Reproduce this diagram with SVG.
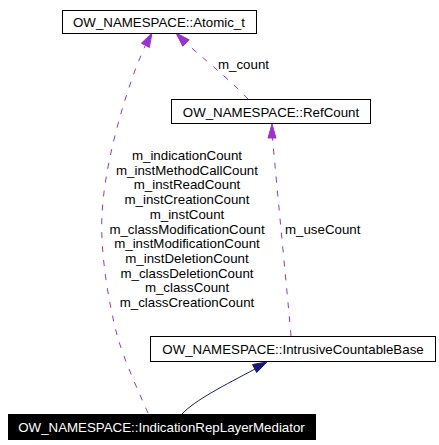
<svg xmlns="http://www.w3.org/2000/svg" width="439" height="445" viewBox="0 0 439 445">
<style>
text{font-family:"Liberation Sans",Arial,sans-serif;font-size:13.3px;fill:#000}
.box{fill:#fff;stroke:#000;stroke-width:1}
.dark{fill:#000;stroke:#000;stroke-width:1}
.c{text-anchor:middle}
.dash{fill:none;stroke:#9a32cd;stroke-width:1;stroke-dasharray:6,8}
.ah{fill:#9a32cd;stroke:#9a32cd;stroke-width:1}
.inh{fill:none;stroke:#191970;stroke-width:1}
.ih{fill:#191970;stroke:#191970;stroke-width:1}
</style>
<rect width="439" height="445" fill="#fff"/>
<g id="edges">
<path class="dash" d="M148,413 C140,395 124,360 117,335 C108,300 100,250 102,215 C104,170 120,110 137,65 L145,46"/>
<polygon class="ah" points="152,33 149.4,47.4 141.4,43.2"/>
<path class="dash" d="M248,99 C235,85 215,68 187,44"/>
<polygon class="ah" points="176,33 189.2,39.8 182.8,46.2"/>
<path class="dash" d="M291,336 C288,300 278,200 272.5,138"/>
<polygon class="ah" points="272,124 276,138 268,138"/>
<path class="inh" d="M182,414 C195,400 225,385 255,369"/>
<polygon class="ih" points="267,362 256.7,372.5 252.5,364.5"/>
<text x="218" y="69">m_count</text>
<text x="285" y="234">m_useCount</text>
<g class="c">
<text x="187" y="160">m_indicationCount</text>
<text x="187" y="174.7">m_instMethodCallCount</text>
<text x="187" y="189.4">m_instReadCount</text>
<text x="187" y="204.1">m_instCreationCount</text>
<text x="187" y="218.8">m_instCount</text>
<text x="187" y="233.5">m_classModificationCount</text>
<text x="187" y="248.2">m_instModificationCount</text>
<text x="187" y="262.9">m_instDeletionCount</text>
<text x="187" y="277.6">m_classDeletionCount</text>
<text x="187" y="292.3">m_classCount</text>
<text x="187" y="307">m_classCreationCount</text>
</g>
</g>
<g id="atomic">
<rect class="box" x="62.5" y="10.5" width="194" height="23"/>
<text class="c" x="159" y="26.5">OW_NAMESPACE::Atomic_t</text>
</g>
<g id="refcount">
<rect class="box" x="171.5" y="99.5" width="199" height="24"/>
<text class="c" x="271" y="116.5">OW_NAMESPACE::RefCount</text>
</g>
<g id="intrusive">
<rect class="box" x="150.5" y="336.5" width="285" height="25"/>
<text class="c" x="293" y="354">OW_NAMESPACE::IntrusiveCountableBase</text>
</g>
<g id="mediator">
<rect class="dark" x="8.5" y="414.5" width="307" height="25"/>
<text class="c" x="161.5" y="431.5" fill="#fff" style="fill:#fff">OW_NAMESPACE::IndicationRepLayerMediator</text>
</g>
</svg>
